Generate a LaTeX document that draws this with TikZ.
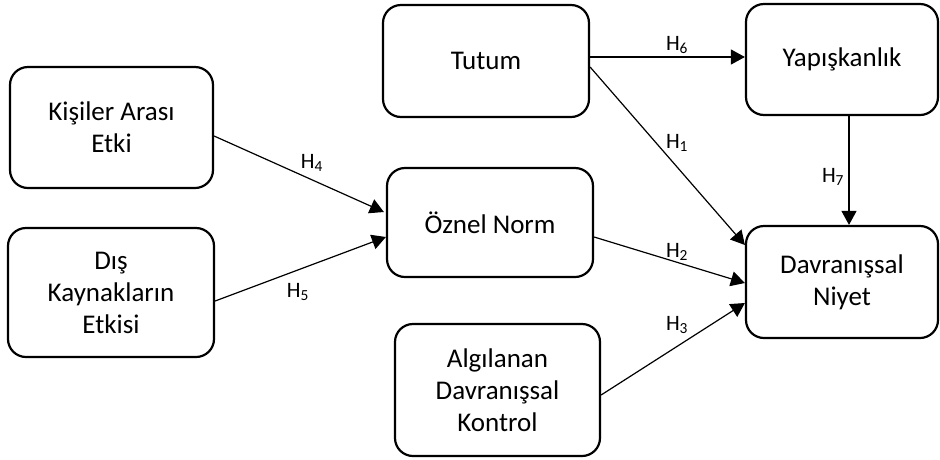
\documentclass[tikz,border=0pt]{standalone}
\usepackage{fontspec}
\setmainfont{Carlito}
\usetikzlibrary{arrows.meta}
\tikzset{
  box/.style={draw, line width=2.2pt, rounded corners=18pt, align=center,
    inner sep=0pt, font=\fontsize{27}{32}\selectfont},
  conn/.style={line width=1.2pt, -{Triangle[length=14pt,width=15pt]}},
  hlab/.style={font=\fontsize{22}{26}\selectfont, inner sep=0pt}
}
\begin{document}
\begin{tikzpicture}[x=1pt,y=-1pt]
\useasboundingbox (0,0) rectangle (940,459);
\node[box, minimum width=203pt, minimum height=121pt] (kis) at (111.5,127.5) {Kişiler Arası\\Etki};
\node[box, minimum width=206pt, minimum height=129pt] (dis) at (111,292.5) {Dış\\Kaynakların\\Etkisi};
\node[box, minimum width=206pt, minimum height=112pt] (tut) at (486,61) {Tutum};
\node[box, minimum width=206pt, minimum height=109pt] (ozn) at (490,222.5) {Öznel Norm};
\node[box, minimum width=205pt, minimum height=132pt] (alg) at (497.5,390) {Algılanan\\Davranışsal\\Kontrol};
\node[box, minimum width=192pt, minimum height=111pt] (yap) at (842,59.5) {Yapışkanlık};
\node[box, minimum width=192pt, minimum height=112pt] (dav) at (842,282) {Davranışsal\\Niyet};

\draw[conn] ([yshift=4pt]tut.east) -- ([yshift=2.5pt]yap.west);
\draw[conn] ([yshift=-6pt]tut.east) -- ([yshift=37pt]dav.west);
\draw[conn] ([xshift=7pt]yap.south) -- ([xshift=7pt]dav.north);
\draw[conn] ([yshift=-14.5pt]ozn.east) -- ([yshift=-1pt]dav.west);
\draw[conn] ([yshift=-5pt]alg.east) -- ([yshift=-21pt]dav.west);
\draw[conn] ([yshift=-8.5pt]kis.east) -- ([yshift=10.5pt,xshift=-2pt]ozn.west);
\draw[conn] ([yshift=-8.5pt]dis.east) -- ([yshift=-14.5pt]ozn.west);

\node[hlab] (h6) at (677,45) {H\textsubscript{6}};
\node[hlab] (h1) at (677,143) {H\textsubscript{1}};
\node[hlab] (h7) at (833,177) {H\textsubscript{7}};
\node[hlab] (h2) at (677,252) {H\textsubscript{2}};
\node[hlab] (h3) at (677,325) {H\textsubscript{3}};
\node[hlab] (h4) at (312,163) {H\textsubscript{4}};
\node[hlab] (h5) at (298,292) {H\textsubscript{5}};
\end{tikzpicture}
\end{document}
